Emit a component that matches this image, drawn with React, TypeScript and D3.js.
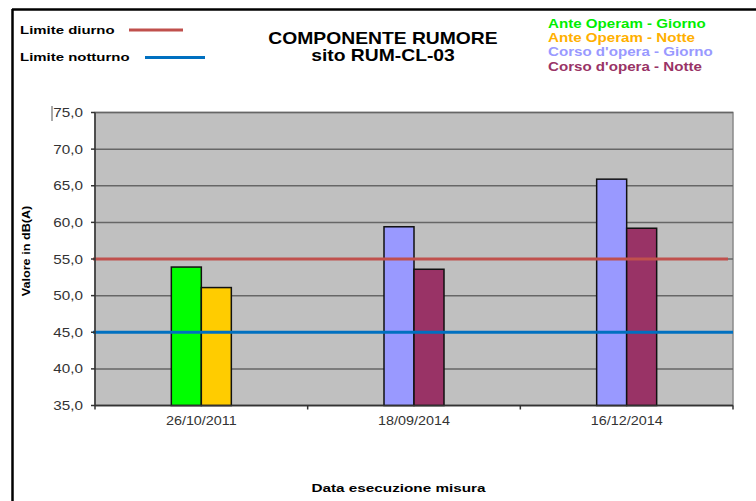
import React from "react";
import * as d3 from "d3";

const categories = ["26/10/2011", "18/09/2014", "16/12/2014"];
const seriesNames = [
  "Ante Operam - Giorno",
  "Ante Operam - Notte",
  "Corso d'opera - Giorno",
  "Corso d'opera - Notte",
];
const anteGiorno: (number | null)[] = [53.9, null, null];
const anteNotte: (number | null)[] = [51.1, null, null];
const corsoGiorno: (number | null)[] = [null, 59.4, 65.9];
const corsoNotte: (number | null)[] = [null, 53.6, 59.2];
const seriesColors = ["#00FF00", "#FFCC00", "#9999FF", "#993366"];
const legendTextColors = ["#00EE00", "#FFB000", "#9999FF", "#993366"];
const yTicks = [35, 40, 45, 50, 55, 60, 65, 70, 75];
const limiteDiurno = 55;
const limiteNotturno = 45;

const W = 756;
const H = 501;
const plot = { left: 95, right: 733, top: 112.5, bottom: 405.5 };
const FONT = "'Liberation Sans', Arial, sans-serif";

function Txt(props: {
  x: number;
  y: number;
  sx?: number;
  size: number;
  bold?: boolean;
  anchor?: "start" | "middle" | "end";
  fill?: string;
  rotate?: number;
  children: React.ReactNode;
}) {
  const { x, y, sx = 1, size, bold, anchor = "start", fill = "#000", rotate = 0 } = props;
  return (
    <text
      transform={`translate(${x},${y}) rotate(${rotate}) scale(${sx},1)`}
      fontSize={size}
      fontWeight={bold ? "bold" : "normal"}
      textAnchor={anchor}
      fill={fill}
    >
      {props.children}
    </text>
  );
}

export default function App() {
  const allSeries = [anteGiorno, anteNotte, corsoGiorno, corsoNotte];
  const x = d3.scaleBand<string>().domain(categories).range([plot.left, plot.right]).padding(0);
  const y = d3.scaleLinear().domain([35, 75]).range([plot.bottom, plot.top]);
  const barW = 30;

  const bars: { x: number; y: number; h: number; color: string; key: string }[] = [];
  categories.forEach((c, ci) => {
    const present = allSeries
      .map((s, si) => ({ v: s[ci], si }))
      .filter((d) => d.v !== null) as { v: number; si: number }[];
    const groupW = present.length * barW;
    const start = (x(c) as number) + x.bandwidth() / 2 - groupW / 2;
    present.forEach((d, k) => {
      bars.push({
        x: start + k * barW,
        y: y(d.v),
        h: y(35) - y(d.v),
        color: seriesColors[d.si],
        key: c + d.si,
      });
    });
  });

  const boundaries = [plot.left, ...categories.map((c) => (x(c) as number) + x.bandwidth())];

  return (
    <svg
      width={W}
      height={H}
      style={{ position: "absolute", left: 0, top: 0, background: "#fff" }}
      fontFamily={FONT}
    >
      {/* frame */}
      <line x1={12} y1={9.5} x2={W} y2={9.5} stroke="#000" strokeWidth={2.5} />
      <line x1={12.5} y1={9} x2={12.5} y2={H} stroke="#000" strokeWidth={2.5} />

      {/* left legend */}
      <Txt x={20} y={34} sx={1.3} size={11.5} bold>Limite diurno</Txt>
      <line x1={129} y1={30} x2={183} y2={30} stroke="#C0504D" strokeWidth={3} />
      <Txt x={20} y={61} sx={1.3} size={11.5} bold>Limite notturno</Txt>
      <line x1={145} y1={57.5} x2={205} y2={57.5} stroke="#0070C0" strokeWidth={3} />

      {/* title */}
      <Txt x={383} y={44} sx={1.17} size={16.5} bold anchor="middle">COMPONENTE RUMORE</Txt>
      <Txt x={383} y={60.5} sx={1.17} size={16.5} bold anchor="middle">sito RUM-CL-03</Txt>

      {/* series legend */}
      {seriesNames.map((n, i) => (
        <Txt key={n} x={548} y={28 + i * 14.2} sx={1.21} size={12.5} bold fill={legendTextColors[i]}>
          {n}
        </Txt>
      ))}

      {/* plot background */}
      <rect
        x={plot.left}
        y={plot.top}
        width={plot.right - plot.left}
        height={plot.bottom - plot.top}
        fill="#C0C0C0"
        stroke="#8a8a8a"
        strokeWidth={1.5}
      />
      {/* gridlines */}
      {yTicks.map((t) => (
        <line key={t} x1={plot.left} x2={plot.right} y1={y(t)} y2={y(t)} stroke="#666" strokeWidth={1.5} />
      ))}

      {/* bars */}
      {bars.map((b) => (
        <rect key={b.key} x={b.x} y={b.y} width={barW} height={b.h} fill={b.color} stroke="#111" strokeWidth={1.5} />
      ))}

      {/* limit lines */}
      <line x1={plot.left - 2} x2={plot.right - 5} y1={y(limiteDiurno)} y2={y(limiteDiurno)} stroke="#C0504D" strokeWidth={3} />
      <line x1={plot.left - 2} x2={plot.right} y1={y(limiteNotturno)} y2={y(limiteNotturno)} stroke="#0070C0" strokeWidth={3} />

      {/* y axis */}
      <line x1={plot.left} x2={plot.left} y1={plot.top} y2={plot.bottom} stroke="#333" strokeWidth={1.5} />
      {yTicks.map((t) => (
        <g key={"yt" + t}>
          <line x1={plot.left - 4} x2={plot.left} y1={y(t)} y2={y(t)} stroke="#333" strokeWidth={1.5} />
          <Txt x={83} y={y(t) + 4.5} sx={1.22} size={12.5} anchor="end" fill="#333">
            {t.toFixed(1).replace(".", ",")}
          </Txt>
        </g>
      ))}
      <line x1={52} x2={52} y1={106} y2={121} stroke="#555" strokeWidth={1} />

      {/* x axis */}
      <line x1={plot.left} x2={plot.right} y1={plot.bottom} y2={plot.bottom} stroke="#333" strokeWidth={1.5} />
      {boundaries.map((b, i) => (
        <line key={"xt" + i} x1={b} x2={b} y1={plot.bottom} y2={plot.bottom + 4} stroke="#333" strokeWidth={1.5} />
      ))}
      {categories.map((c) => (
        <Txt key={c} x={(x(c) as number) + x.bandwidth() / 2} y={425} sx={1.15} size={12.5} anchor="middle" fill="#333">
          {c}
        </Txt>
      ))}

      {/* axis titles */}
      <Txt x={30} y={(plot.top + plot.bottom) / 2 - 8} rotate={-90} sx={1.1} size={11.5} bold anchor="middle">
        Valore in dB(A)
      </Txt>
      <Txt x={398.5} y={492} sx={1.33} size={11.5} bold anchor="middle">
        Data esecuzione misura
      </Txt>
    </svg>
  );
}
